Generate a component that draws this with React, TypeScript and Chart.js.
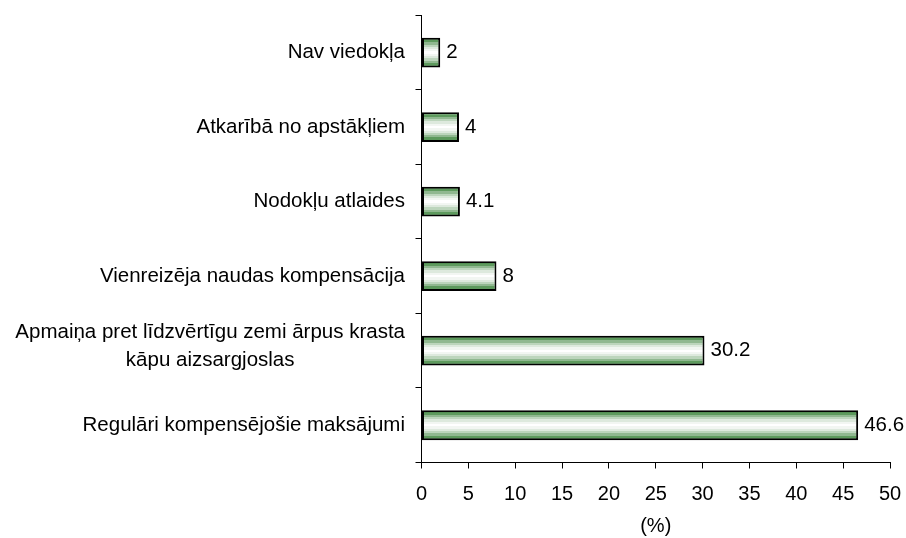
import React, { useEffect, useRef } from 'react';
import { Chart, registerables } from 'chart.js';

Chart.register(...registerables);

// ---- data ----
const categories: (string | string[])[] = [
  'Nav viedokļa',
  'Atkarībā no apstākļiem',
  'Nodokļu atlaides',
  'Vienreizēja naudas kompensācija',
  ['Apmaiņa pret līdzvērtīgu zemi ārpus krasta', 'kāpu aizsargjoslas'],
  'Regulāri kompensējošie maksājumi',
];
const values = [2, 4, 4.1, 8, 30.2, 46.6];
const xMin = 0;
const xMax = 50;
const xStep = 5;
const xTitle = '(%)';

// ---- styles ----
const FONT = '"Liberation Sans", Arial, sans-serif';
const FS_LABEL = 20.5;
const FS_TICK = 20;
const TEXT = '#000000';
const BANDS = [
  '#2f7f2f', '#5d9a5d', '#90b890', '#bcd5bc', '#dde9dd', '#f2f6f2', '#ffffff',
  '#f2f6f2', '#dde9dd', '#bcd5bc', '#90b890', '#5d9a5d', '#2f7f2f',
];
const BAR_FRACTION = 0.8 * 0.5;

const yLabelPlugin = {
  id: 'yLabelPlugin',
  afterDraw(chart: any) {
    const ys = chart.scales.y;
    const ctx = chart.ctx;
    ctx.save();
    ctx.font = `${FS_LABEL}px ${FONT}`;
    ctx.fillStyle = TEXT;
    ctx.textBaseline = 'middle';
    ctx.textAlign = 'center';
    const right = ys.right - 16.5;
    categories.forEach((lab, i) => {
      const lines = Array.isArray(lab) ? lab : [lab];
      const w = Math.max(...lines.map((l) => ctx.measureText(l).width));
      const cx = right - w / 2;
      const cy = ys.getPixelForValue(i) + (lines.length > 1 ? -4 : 0);
      const lh = 28;
      lines.forEach((l, k) => {
        ctx.fillText(l, cx, cy + (k - (lines.length - 1) / 2) * lh);
      });
    });
    ctx.restore();
  },
};

const valueLabelPlugin = {
  id: 'valueLabelPlugin',
  afterDatasetsDraw(chart: any) {
    const ctx = chart.ctx;
    const meta = chart.getDatasetMeta(0);
    ctx.save();
    ctx.font = `${FS_LABEL}px ${FONT}`;
    ctx.fillStyle = TEXT;
    ctx.textBaseline = 'middle';
    ctx.textAlign = 'left';
    meta.data.forEach((bar: any, i: number) => {
      const { x, y } = bar.getProps(['x', 'y'], true);
      ctx.fillText(String(values[i]), x + 6, y);
    });
    ctx.restore();
  },
};

export default function App() {
  const ref = useRef<HTMLCanvasElement | null>(null);

  useEffect(() => {
    if (!ref.current) return;
    const chart = new Chart(ref.current, {
      type: 'bar',
      data: {
        labels: categories as any,
        datasets: [
          {
            data: values,
            backgroundColor: (c: any) => {
              const ch = c.chart;
              const ys = ch.scales && ch.scales.y;
              if (!ys || c.dataIndex === undefined || !ch.chartArea) return '#90b890';
              const center = ys.getPixelForValue(c.dataIndex);
              const half = ((ys.bottom - ys.top) / categories.length) * BAR_FRACTION / 2;
              const g = ch.ctx.createLinearGradient(0, center - half, 0, center + half);
              const n = BANDS.length;
              BANDS.forEach((col, k) => {
                g.addColorStop(k / n, col);
                g.addColorStop(Math.min(1, (k + 1) / n - 0.0001), col);
              });
              return g;
            },
            borderColor: '#000000',
            borderWidth: 2,
            borderSkipped: false,
            categoryPercentage: 0.8,
            barPercentage: 0.5,
          },
        ],
      },
      options: {
        indexAxis: 'y',
        animation: false,
        responsive: true,
        maintainAspectRatio: false,
        layout: { padding: { top: 15, right: 16, left: 0, bottom: 0 } },
        plugins: {
          legend: { display: false },
          tooltip: { enabled: false },
        },
        scales: {
          x: {
            min: xMin,
            max: xMax,
            ticks: {
              stepSize: xStep,
              color: TEXT,
              font: { family: FONT, size: FS_TICK },
              padding: 14,
              maxRotation: 0,
            },
            grid: {
              drawOnChartArea: false,
              tickLength: 6,
              color: '#000000',
              lineWidth: 1,
            },
            border: { color: '#000000', width: 1 },
            title: {
              display: true,
              text: xTitle,
              color: TEXT,
              font: { family: FONT, size: FS_TICK },
              padding: 0,
            },
            afterFit: (s: any) => {
              s.height = 75.5;
              s.paddingLeft = 0;
              s.paddingRight = 0;
            },
          },
          y: {
            ticks: {
              color: 'rgba(0,0,0,0)',
              font: { family: FONT, size: FS_LABEL },
            },
            grid: {
              drawOnChartArea: false,
              tickLength: 6,
              color: '#000000',
              lineWidth: 1,
              offset: true,
            },
            border: { color: '#000000', width: 1 },
            afterFit: (s: any) => {
              s.width = 421.5;
            },
          },
        },
      },
      plugins: [yLabelPlugin, valueLabelPlugin],
    } as any);
    return () => chart.destroy();
  }, []);

  return (
    <div style={{ position: 'fixed', left: 0, top: 0, width: 906, height: 538, background: '#fff' }}>
      <canvas ref={ref} />
    </div>
  );
}
